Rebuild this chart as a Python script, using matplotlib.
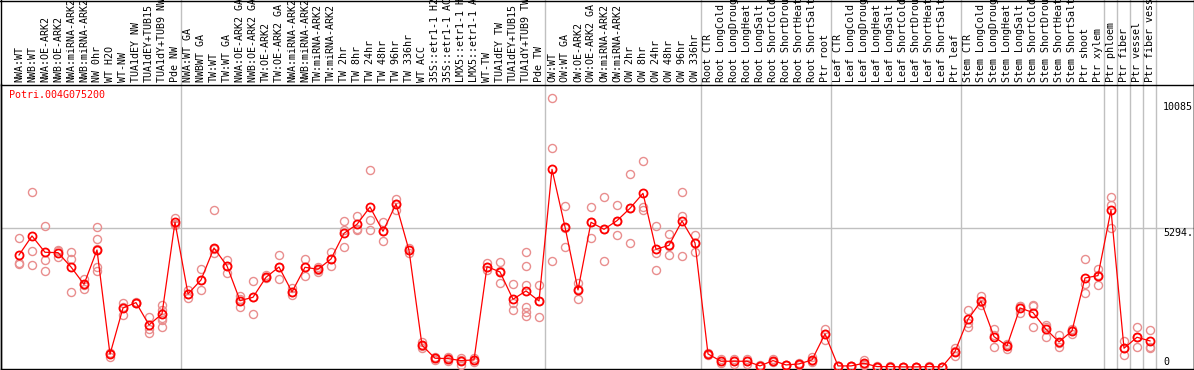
import matplotlib.pyplot as plt
from matplotlib.lines import Line2D
import matplotlib.transforms as mtransforms

plt.rcParams['font.family'] = ['DejaVu Sans Mono']

gene = "Potri.004G075200"

labels = [
    "NWA:WT", "NWB:WT", "NWA:OE-ARK2", "NWB:OE-ARK2", "NWA:miRNA-ARK2", "NWB:miRNA-ARK2",
    "NW 0hr", "WT H2O", "WT-NW", "TUA1dEY NW", "TUA1dEY+TUB15", "TUA1dY+TUB9 NW", "Pde NW",
    "NWA:WT GA", "NWBWT GA", "TW:WT", "TW:WT GA", "NWA:OE-ARK2 GA", "NWB:OE-ARK2 GA",
    "TW:OE-ARK2", "TW:OE-ARK2 GA", "NWA:miRNA-ARK2", "NWB:miRNA-ARK2", "TW:miRNA-ARK2",
    "TW:miRNA-ARK2", "TW 2hr", "TW 8hr", "TW 24hr", "TW 48hr", "TW 96hr", "TW 336hr",
    "WT ACC", "35S::etr1-1 H2", "35S::etr1-1 AC", "LMX5::etr1-1 H", "LMX5::etr1-1 A",
    "WT-TW", "TUA1dEY TW", "TUA1dEY+TUB15", "TUA1dY+TUB9 TW", "Pde TW",
    "OW:WT", "OW:WT GA", "OW:OE-ARK2", "OW:OE-ARK2 GA", "OW:miRNA-ARK2", "OW:miRNA-ARK2",
    "OW 2hr", "OW 8hr", "OW 24hr", "OW 48hr", "OW 96hr", "OW 336hr",
    "Root CTR", "Root LongCold", "Root LongDroug", "Root LongHeat", "Root LongSalt",
    "Root ShortCold", "Root ShortDrou", "Root ShortHeat", "Root ShortSalt", "Ptr root",
    "Leaf CTR", "Leaf LongCold", "Leaf LongDroug", "Leaf LongHeat", "Leaf LongSalt",
    "Leaf ShortCold", "Leaf ShortDrou", "Leaf ShortHeat", "Leaf ShortSalt", "Ptr leaf",
    "Stem CTR", "Stem LongCold", "Stem LongDroug", "Stem LongHeat", "Stem LongSalt",
    "Stem ShortCold", "Stem ShortDrou", "Stem ShortHeat", "Stem ShortSalt", "Ptr shoot",
    "Ptr xylem", "Ptr phloem", "Ptr fiber", "Ptr vessel", "Ptr fiber vess",
]

# index of last sample in each block (gray separator drawn after it)
group_ends = [12, 40, 52, 62, 72, 83, 84, 85, 86, 87]

means = [
    4256, 4979, 4358, 4345, 3800, 3141, 4446, 481, 2242, 2445, 1596, 2014, 5498,
    2774, 3306, 4522, 3838, 2521, 2647, 3407, 3800, 2850, 3788, 3712, 4104, 5080,
    5422, 6081, 5156, 6195, 4434, 823, 329, 316, 240, 265, 3813, 3610, 2571, 2888,
    2508, 7512, 5321, 2926, 5498, 5232, 5561, 6030, 6600, 4472, 4624, 5549, 4712,
    493, 215, 215, 215, 37, 240, 75, 113, 265, 1254,
    37, 37, 139, 12, 12, 0, 0, 12, 0, 582,
    1811, 2495, 1152, 798, 2242, 2065, 1431, 950, 1368, 3382, 3471,
    5967, 709, 1127, 987,
]

reps = [
    [4890, 3914, 3960], [6638, 4396, 3876], [5359, 4054, 3636], [4446, 4193, 4395],
    [4370, 4117, 2850], [3331, 2964, 3130], [5321, 4865, 4497, 3788, 3648], [392, 519, 530],
    [2419, 2293, 1976], [2480, 2420, 2435], [1912, 1431, 1304], [2356, 2166, 1849, 1786, 1507],
    [5650, 5397, 5450],
    [2926, 2609, 2790], [3712, 2913, 3290], [5967, 4345, 4480], [4066, 3585, 3850],
    [2698, 2267, 2600], [3268, 2014, 2650], [3496, 3369, 3400], [4256, 3331, 3800],
    [2989, 2736, 2850], [4104, 3471, 3790], [3813, 3623, 3700], [4358, 3851, 4100],
    [5549, 5206, 4548], [5739, 5232, 5206], [7487, 5587, 5206], [5498, 4776, 5160],
    [6385, 5967, 6200], [4510, 4320, 4450], [962, 709, 800], [392, 265, 330],
    [392, 240, 320], [329, 75, 250], [329, 170, 260], [3965, 3686, 3800],
    [3978, 3179, 3650], [3154, 2419, 2166], [4358, 3838, 3116, 2293, 2103, 1950],
    [3116, 1887, 2500],
    [10211, 8311, 4041], [6119, 4548, 5300], [3205, 2571, 2950], [6068, 4890, 5500],
    [6448, 4016, 5250], [6144, 5004, 5550], [7322, 4700, 6050], [7829, 6094, 5967],
    [5359, 4320, 3674], [5042, 4244, 4600], [6638, 5739, 4218], [5017, 4383, 4700],
    [450, 520, 500], [290, 140, 220], [290, 120, 220], [310, 120, 220], [37, 60, 20],
    [290, 200, 240], [75, 60, 90], [139, 75, 120], [392, 200, 220], [1431, 1025, 1250],
    [37, 20, 50], [37, 20, 50], [265, 75, 120], [12, 20, 5], [12, 20, 5],
    [0, 10, 5], [0, 10, 5], [12, 20, 5], [0, 10, 5], [709, 430, 600],
    [2166, 1659, 1507], [2698, 2356, 2450], [1456, 772, 1200], [835, 696, 860],
    [2318, 2065, 2300], [2356, 1507, 2300], [1608, 1152, 1500], [1215, 772, 900],
    [1431, 1254, 1400], [4104, 3141, 2799], [3724, 3116, 3500],
    [6448, 6157, 5295], [1000, 455, 700], [1507, 747, 1120], [1406, 772, 709],
]

mid_tick = 5294
top_tick = 10085

W, H = 1194, 370
fig = plt.figure(figsize=(W / 100, H / 100), dpi=100)
ax = fig.add_axes([1 / W, 1 / H, 1 - 1 / W, (369 - 84.5) / H])

red = '#ff0000'
pink = '#e98e8e'
gray = '#c0c0c0'

x = list(range(len(labels)))

for i, r in enumerate(reps):
    ax.plot([i] * len(r), r, linestyle='none', marker='o', markersize=5.8,
            markerfacecolor='none', markeredgecolor=pink, markeredgewidth=1.0, zorder=3)

ax.plot(x, means, color=red, linewidth=0.9, zorder=4)
ax.plot(x, means, linestyle='none', marker='o', markersize=5.8,
        markerfacecolor='none', markeredgecolor=red, markeredgewidth=1.3, zorder=5)

ax.set_xlim(-18 / 13, (W - 19) / 13)
ax.set_ylim(-80, 10738)

# separators reach up through the label band
top_frac = (369 - 0) / (369 - 84.5)
for g in group_ends:
    ax.axvline(g + 0.43, 0, top_frac, color=gray, linewidth=1.0, clip_on=False, zorder=1)
ax.axhline(mid_tick, color=gray, linewidth=1.0, zorder=1)

ax.set_xticks([])
ax.set_yticks([])
for s in ['left', 'bottom', 'top', 'right']:
    ax.spines[s].set_linewidth(1.0)
    ax.spines[s].set_color('black')

trans = mtransforms.blended_transform_factory(ax.transData, ax.transAxes)
for i, lab in enumerate(labels):
    ax.text(i, 1 + 2.5 / 284.5, lab, transform=trans, rotation=90, ha='center',
            va='bottom', fontsize=7.2, clip_on=False)

ax.text(8 / W, 0.963, gene, transform=ax.transAxes, color=red, fontsize=7.2,
        ha='left', va='center')

ytrans = mtransforms.blended_transform_factory(fig.transFigure, ax.transData)
ax.text(1163 / W, top_tick, str(top_tick), transform=ytrans, fontsize=7.2,
        ha='left', va='top')
ax.text(1163 / W, mid_tick, str(mid_tick) + ".", transform=ytrans, fontsize=7.2,
        ha='left', va='top')
ax.text(1163 / W, 0, "0", transform=ytrans, fontsize=7.2, ha='left', va='bottom')

# outer frame of the whole picture
fig.add_artist(Line2D([0.5 / W, 0.5 / W], [0, 1], color='black', linewidth=1.0))
fig.add_artist(Line2D([1 - 0.5 / W, 1 - 0.5 / W], [0, 1], color='black', linewidth=1.0))
fig.add_artist(Line2D([0, 1], [1 - 0.5 / H, 1 - 0.5 / H], color='black', linewidth=1.0))

fig.savefig('out.png', dpi=100)
